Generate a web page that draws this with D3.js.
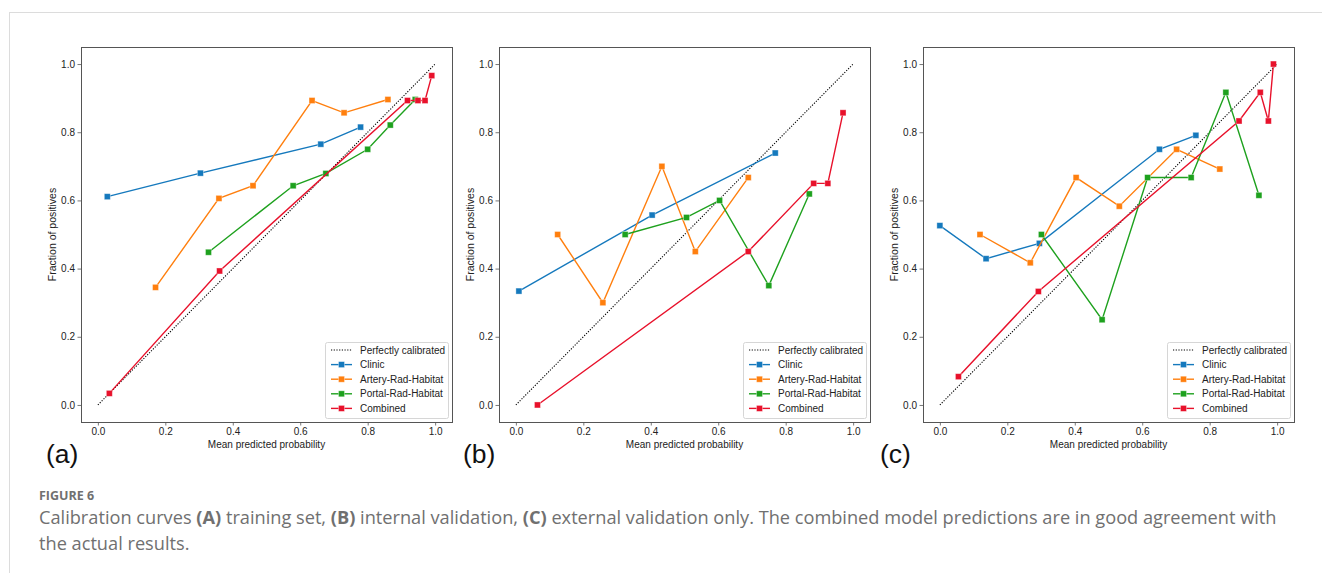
<!DOCTYPE html>
<html><head><meta charset="utf-8">
<script src="https://cdn.jsdelivr.net/npm/d3@7"></script>
<style>body{margin:0;background:#fff}svg{display:block}</style>
</head><body><svg id="chart" width="1322" height="573"></svg>
<script>
// ---------- data ----------
const seriesNames = ["Clinic", "Artery-Rad-Habitat", "Portal-Rad-Habitat", "Combined"];
const seriesColors = ["#1579bd", "#ff7f0e", "#1ea11e", "#e8112b"];
const panelLabels = ["(a)", "(b)", "(c)"];
const tickValues = [0.0, 0.2, 0.4, 0.6, 0.8, 1.0];
const tickLabels = ["0.0", "0.2", "0.4", "0.6", "0.8", "1.0"];
const perfectLine = [[0, 0], [1, 1]];

// (a) training set
const trainClinic   = [[0.028,0.611],[0.304,0.680],[0.661,0.765],[0.779,0.815]];
const trainArtery   = [[0.171,0.345],[0.359,0.606],[0.460,0.643],[0.635,0.893],[0.730,0.857],[0.860,0.896]];
const trainPortal   = [[0.328,0.448],[0.579,0.643],[0.676,0.679],[0.800,0.750],[0.867,0.821],[0.941,0.896]];
const trainCombined = [[0.034,0.034],[0.361,0.393],[0.918,0.893],[0.949,0.893],[0.970,0.893],[0.990,0.966]];

// (b) internal validation
const intClinic   = [[0.009,0.334],[0.404,0.557],[0.769,0.739]];
const intArtery   = [[0.124,0.500],[0.258,0.300],[0.433,0.700],[0.532,0.450],[0.689,0.667]];
const intPortal   = [[0.324,0.500],[0.506,0.550],[0.604,0.600],[0.750,0.350],[0.870,0.619]];
const intCombined = [[0.064,0.000],[0.689,0.450],[0.883,0.650],[0.925,0.650],[0.970,0.857]];

// (c) external validation
const extClinic   = [[0.000,0.526],[0.137,0.429],[0.295,0.474],[0.651,0.750],[0.759,0.791]];
const extArtery   = [[0.119,0.500],[0.268,0.417],[0.404,0.667],[0.532,0.583],[0.702,0.750],[0.830,0.692]];
const extPortal   = [[0.301,0.500],[0.481,0.250],[0.616,0.667],[0.745,0.667],[0.848,0.917],[0.946,0.615]];
const extCombined = [[0.055,0.083],[0.292,0.333],[0.887,0.833],[0.950,0.917],[0.974,0.833],[0.989,1.000]];

const panelData = [
  [trainClinic, trainArtery, trainPortal, trainCombined],
  [intClinic, intArtery, intPortal, intCombined],
  [extClinic, extArtery, extPortal, extCombined]
];

const captionTitle = "FIGURE 6";

// ---------- layout ----------
const svg = d3.select("#chart");
const font = "'Liberation Sans', Arial, sans-serif";
const panelLefts = [81, 499, 923];
const panelW = 371, panelTop = 47, panelH = 375;
const frameColor = "#555";

// outer page border
svg.append("line").attr("x1", 9).attr("x2", 1322).attr("y1", 12.5).attr("y2", 12.5)
  .attr("stroke", "#dcdcdc").attr("stroke-width", 1);
svg.append("line").attr("x1", 9.5).attr("x2", 9.5).attr("y1", 12).attr("y2", 573)
  .attr("stroke", "#dcdcdc").attr("stroke-width", 1);

panelData.forEach((series, pi) => {
  const left = panelLefts[pi];
  const x = d3.scaleLinear().domain([-0.05, 1.05]).range([left, left + panelW]);
  const y = d3.scaleLinear().domain([-0.05, 1.05]).range([panelTop + panelH, panelTop]);
  const g = svg.append("g");

  // axes
  const xAxis = d3.axisBottom(x).tickValues(tickValues).tickFormat((d, i) => tickLabels[i])
    .tickSizeOuter(0).tickSize(3.5).tickPadding(2.5);
  const yAxis = d3.axisLeft(y).tickValues(tickValues).tickFormat((d, i) => tickLabels[i])
    .tickSizeOuter(0).tickSize(3.5).tickPadding(2.5);
  const gx = g.append("g").attr("transform", `translate(0,${panelTop + panelH})`).call(xAxis);
  const gy = g.append("g").attr("transform", `translate(${left},0)`).call(yAxis);
  [gx, gy].forEach(a => {
    a.select(".domain").remove();
    a.selectAll("line").attr("stroke", frameColor).attr("stroke-width", 0.8);
    a.selectAll("text").attr("font-family", font).attr("font-size", 10).attr("fill", "#222");
  });

  // frame
  g.append("rect").attr("x", left + 0.5).attr("y", panelTop + 0.5)
    .attr("width", panelW).attr("height", panelH)
    .attr("fill", "none").attr("stroke", frameColor).attr("stroke-width", 1);

  const line = d3.line().x(d => x(d[0])).y(d => y(d[1]));

  // perfectly calibrated
  g.append("path").attr("d", line(perfectLine)).attr("fill", "none")
    .attr("stroke", "#000").attr("stroke-width", 1.1).attr("stroke-dasharray", "1.2,1.5");

  series.forEach((pts, si) => {
    const c = seriesColors[si];
    g.append("path").attr("d", line(pts)).attr("fill", "none")
      .attr("stroke", c).attr("stroke-width", 1.4);
    g.selectAll(null).data(pts).enter().append("rect")
      .attr("x", d => x(d[0]) - 3).attr("y", d => y(d[1]) - 3)
      .attr("width", 6).attr("height", 6)
      .attr("fill", c).attr("stroke", "#fff").attr("stroke-opacity", 0.45).attr("stroke-width", 0.8);
  });

  // axis labels
  g.append("text").attr("x", left + panelW / 2).attr("y", 447.5).attr("text-anchor", "middle")
    .attr("font-family", font).attr("font-size", 10).attr("fill", "#222")
    .text("Mean predicted probability");
  g.append("text").attr("transform", `translate(${left - 25},${panelTop + panelH / 2}) rotate(-90)`)
    .attr("text-anchor", "middle").attr("font-family", font).attr("font-size", 10.5).attr("fill", "#222")
    .text("Fraction of positives");

  // legend
  const lw = 123, lh = 76;
  const lx = left + panelW - 4 - lw, ly = panelTop + panelH - 4 - lh;
  const lg = g.append("g").attr("transform", `translate(${lx},${ly})`);
  lg.append("rect").attr("x", 0.5).attr("y", 0.5).attr("width", lw).attr("height", lh).attr("rx", 2)
    .attr("fill", "#fff").attr("fill-opacity", 0.85).attr("stroke", "#d6d6d6").attr("stroke-width", 1);
  const rowY = i => 8 + i * 14.6;
  lg.append("line").attr("x1", 6).attr("x2", 27).attr("y1", rowY(0)).attr("y2", rowY(0))
    .attr("stroke", "#000").attr("stroke-width", 1.1).attr("stroke-dasharray", "1.2,1.5");
  lg.append("text").attr("x", 35).attr("y", rowY(0)).attr("dy", "0.35em")
    .attr("font-family", font).attr("font-size", 10).attr("fill", "#222").text("Perfectly calibrated");
  seriesNames.forEach((name, i) => {
    const yy = rowY(i + 1);
    lg.append("line").attr("x1", 6).attr("x2", 27).attr("y1", yy).attr("y2", yy)
      .attr("stroke", seriesColors[i]).attr("stroke-width", 1.4);
    lg.append("rect").attr("x", 16.5 - 3).attr("y", yy - 3).attr("width", 6).attr("height", 6)
      .attr("fill", seriesColors[i]).attr("stroke", "#fff").attr("stroke-opacity", 0.45).attr("stroke-width", 0.8);
    lg.append("text").attr("x", 35).attr("y", yy).attr("dy", "0.35em")
      .attr("font-family", font).attr("font-size", 10).attr("fill", "#222").text(name);
  });
});

// panel letters
const letterX = [46, 463, 880];
panelLabels.forEach((t, i) => {
  svg.append("text").attr("x", letterX[i]).attr("y", 463).attr("font-family", font)
    .attr("font-size", 26.5).attr("fill", "#111").text(t);
});

// caption
const capFont = "'Open Sans', 'Noto Sans', sans-serif";
svg.append("text").attr("x", 39).attr("y", 500).attr("font-family", capFont)
  .attr("font-size", 12.5).attr("font-weight", "bold").attr("fill", "#707070").text(captionTitle);

const line1 = [
  ["Calibration curves ", false], ["(A)", true], [" training set, ", false], ["(B)", true],
  [" internal validation, ", false], ["(C)", true],
  [" external validation only. The combined model predictions are in good agreement with", false]
];
const t1 = svg.append("text").attr("x", 39).attr("y", 524).attr("font-family", capFont)
  .attr("font-size", 16).attr("fill", "#707070");
line1.forEach(([s, b]) => t1.append("tspan").attr("font-weight", b ? "bold" : "normal").text(s));
const w1 = t1.node().getComputedTextLength();
const fs = 16 * 1238 / w1;
t1.attr("font-size", fs);
svg.append("text").attr("x", 39).attr("y", 550).attr("font-family", capFont)
  .attr("font-size", fs).attr("fill", "#707070").text("the actual results.");
</script>
</body></html>
